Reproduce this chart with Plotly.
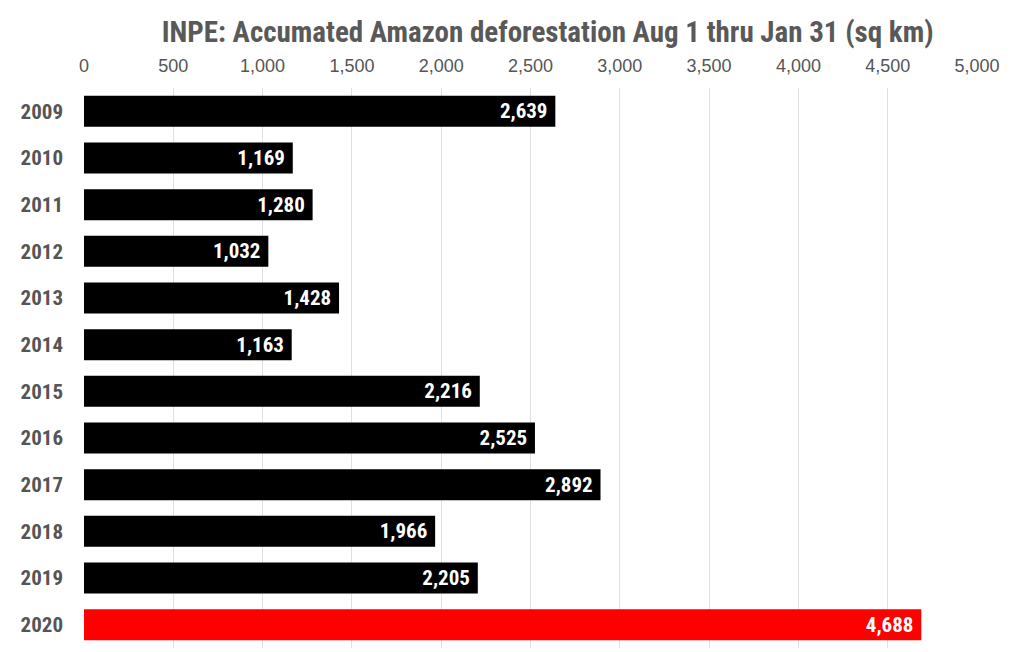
import plotly.graph_objects as go

years = ["2009", "2010", "2011", "2012", "2013", "2014", "2015", "2016", "2017", "2018", "2019", "2020"]
values = [2639, 1169, 1280, 1032, 1428, 1163, 2216, 2525, 2892, 1966, 2205, 4688]
colors = ["#000000"] * 11 + ["#ff0000"]
tick_vals = [0, 500, 1000, 1500, 2000, 2500, 3000, 3500, 4000, 4500, 5000]
tick_text = ["0", "500", "1,000", "1,500", "2,000", "2,500", "3,000", "3,500", "4,000", "4,500", "5,000"]
title = "INPE: Accumated Amazon deforestation Aug 1 thru Jan 31 (sq km)"

cond = "Roboto Condensed, Open Sans Condensed, sans-serif"

fig = go.Figure(go.Bar(
    y=years, x=values, orientation="h",
    marker=dict(color=colors, line=dict(width=0)),
    text=[f"{v:,}&nbsp;" for v in values],
    textposition="inside", insidetextanchor="end",
    textfont=dict(family=cond, size=21, color="white", weight=700),
    cliponaxis=False,
))

fig.update_layout(
    width=1024, height=652,
    margin=dict(l=76, r=55, t=80, b=12),
    paper_bgcolor="white", plot_bgcolor="white",
    bargap=0.336,
    showlegend=False,
    title=dict(text=title, x=0.527, xanchor="center", y=0.963, yanchor="middle",
               font=dict(family=cond, size=29, color="#595959", weight=700)),
    xaxis=dict(side="top", range=[0, 5000], tickvals=tick_vals, ticktext=tick_text,
               showgrid=True, gridcolor="#e0e0e0", gridwidth=1, zeroline=False,
               showline=False, ticks="", ticklabelstandoff=11,
               tickfont=dict(family="Liberation Sans, Arial, sans-serif", size=18, color="#555555")),
    yaxis=dict(autorange="reversed", showgrid=False, showline=False, ticks="", zeroline=False,
               ticklabelstandoff=20,
               tickfont=dict(family=cond, size=21, color="#555555", weight=700)),
)

fig.write_html("out.html")
